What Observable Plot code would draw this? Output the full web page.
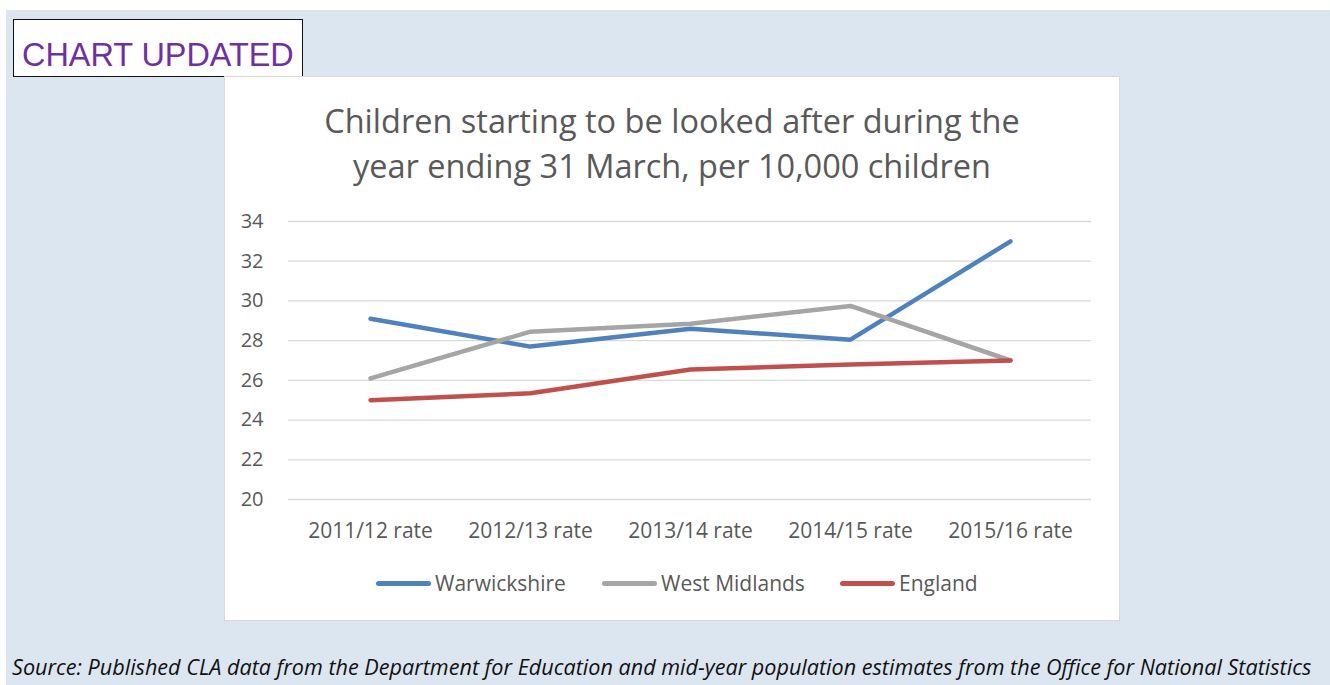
<!DOCTYPE html>
<html><head><meta charset="utf-8">
<script src="https://cdn.jsdelivr.net/npm/d3@7"></script>
<script src="https://cdn.jsdelivr.net/npm/@observablehq/plot@0.6"></script>
<style>
html,body{margin:0;padding:0;width:1330px;height:685px;overflow:hidden;background:#fff;}
#bg{position:absolute;left:6px;top:10px;width:1324px;height:675px;background:#dce6f1;}
#badge{position:absolute;left:13px;top:19px;width:290px;height:58px;background:#fff;border:1.5px solid #111;font-family:"Liberation Sans",Arial,sans-serif;font-size:32.4px;color:#7030a0;padding-left:8px;box-sizing:border-box;padding-top:15px;line-height:40px;}
#panel{position:absolute;left:224px;top:76px;width:896px;height:545px;background:#fff;border:1px solid #d9d9d9;box-sizing:border-box;}
#title{position:absolute;left:224px;top:98px;width:896px;text-align:center;font-family:"Open Sans",sans-serif;font-size:32.5px;color:#595959;line-height:45px;}
#chart{position:absolute;left:224px;top:200px;}
#legend{position:absolute;top:570px;left:224px;width:896px;height:26px;font-family:"Open Sans",sans-serif;font-size:21px;color:#595959;}
.li{position:absolute;top:0;display:flex;align-items:center;height:26px;}
.sw{display:inline-block;width:55px;height:5px;border-radius:3px;margin-right:4px;}
#source{position:absolute;left:12px;top:652px;font-family:"Open Sans",sans-serif;font-style:italic;font-size:21.6px;color:#111;white-space:nowrap;}
</style></head>
<body>
<div id="bg"></div>
<div id="badge">CHART UPDATED</div>
<div id="panel"></div>
<div id="title">Children starting to be looked after during the<br>year ending 31 March, per 10,000 children</div>
<div id="chart"></div>
<div id="legend"></div>
<div id="source">Source: Published CLA data from the Department for Education and mid-year population estimates from the Office for National Statistics</div>
<script>
const years = ["2011/12 rate","2012/13 rate","2013/14 rate","2014/15 rate","2015/16 rate"];
const warwickshire = [29.1, 27.7, 28.6, 28.05, 33.0];
const westMidlands = [26.1, 28.45, 28.85, 29.75, 27.0];
const england = [25.0, 25.35, 26.55, 26.8, 27.0];
const seriesNames = ["Warwickshire","West Midlands","England"];
const seriesColors = ["#4f81bd","#a5a5a5","#c0504d"];
const yTicks = [20,22,24,26,28,30,32,34];

const seriesValues = [warwickshire, westMidlands, england];
const data = [];
seriesNames.forEach((s,si)=>years.forEach((y,i)=>data.push({series:s, year:y, value:seriesValues[si][i]})));

const plot = Plot.plot({
  width: 896, height: 345,
  marginLeft: 64, marginRight: 29, marginTop: 21, marginBottom: 46,
  style: {fontFamily: "'Open Sans', sans-serif", fontSize: "20px", color: "#595959", background: "transparent"},
  x: {type: "point", domain: years, padding: 0.5, label: null},
  y: {domain: [20,34], ticks: yTicks, label: null},
  color: {domain: seriesNames, range: seriesColors},
  marks: [
    Plot.ruleY(yTicks, {stroke: "#d9d9d9", strokeWidth: 1.3}),
    Plot.axisX({tickSize: 0, tickPadding: 24, label: null, fontSize: 21, fill: "#595959"}),
    Plot.axisY({tickSize: 0, tickPadding: 25, label: null, fontSize: 20, fill: "#595959", ticks: yTicks}),
    Plot.line(data, {x: "year", y: "value", z: "series", stroke: "series", strokeWidth: 4.5, strokeLinecap: "round", strokeLinejoin: "round"})
  ]
});
document.getElementById("chart").appendChild(plot);

const legendPos = [152, 378, 616];
const lg = document.getElementById("legend");
seriesNames.forEach((s,i)=>{
  const d = document.createElement("div");
  d.className = "li";
  d.style.left = legendPos[i] + "px";
  d.innerHTML = `<span class="sw" style="background:${seriesColors[i]}"></span><span>${s}</span>`;
  lg.appendChild(d);
});
</script>
</body></html>
